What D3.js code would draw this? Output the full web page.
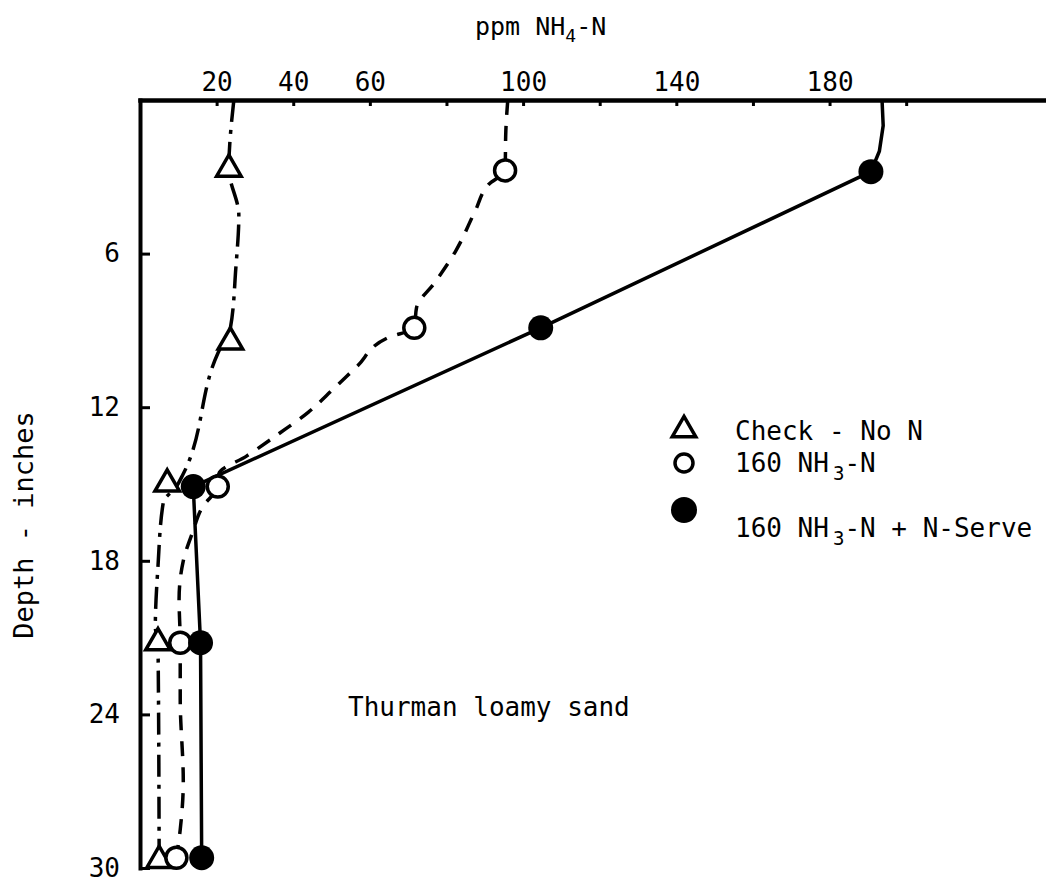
<!DOCTYPE html>
<head>
    <meta charset="utf-8">
    <script src="https://d3js.org/d3.v7.min.js"></script>
    <style>
        body {
            margin: 0;
            background: #fff;
        }

        text {
            font-family: 'DejaVu Sans Mono', monospace;
            fill: #000;
        }
    </style>
</head>

<body>
    <div id="my_dataviz"></div>
</body>
<script>

    // depth (inches) and ppm NH4-N, one pair of arrays per treatment
    var checkDepth = [2.7, 9.45, 15.0, 21.2, 29.7];
    var checkPpm = [23.2, 23.6, 7.1, 4.7, 5.0];

    var nh3Depth = [2.75, 8.9, 15.1, 21.2, 29.6];
    var nh3Ppm = [95.3, 71.6, 20.3, 10.5, 9.5];

    var nserveDepth = [2.8, 8.9, 15.1, 21.2, 29.6];
    var nservePpm = [190.8, 104.6, 13.9, 15.8, 16.1];

    // hand drawn connecting curves, [depth, ppm]
    var checkTrace = [[0, 24.5], [2.7, 23.2], [4.5, 25.8], [6.6, 25], [8.9, 23.6], [9.9, 20.3],
        [14.6, 11.3], [15.1, 9.5], [15.7, 6.1], [18.2, 4.7], [20.6, 4.0], [21.2, 4.7], [29.7, 5.0]];
    var nh3Trace = [[0, 96], [1.2, 95.5], [2.75, 95.3], [3.3, 91.0], [4.3, 87.6], [5.9, 82.4],
        [7.1, 77.1], [8.1, 72.2], [8.9, 71.6], [9.3, 64.5], [10.4, 56.7], [11.3, 50.4], [12.2, 43.9],
        [13.0, 36.6], [13.9, 27.9], [14.6, 20.6], [15.1, 20.3], [15.9, 16.3], [16.9, 13.7],
        [18, 11.3], [19.5, 10.2], [21.2, 10.5], [23.4, 10.5], [26.6, 11.3], [28.5, 10.5], [29.6, 9.5]];
    var nserveTrace = [[0, 193.7], [1.0, 194], [2.0, 193], [2.8, 190.8], [8.9, 104.6], [15.1, 13.9],
        [21.2, 15.8], [29.6, 16.1]];

    var xTicks = [20, 40, 60, 80, 100, 120, 140, 160, 180, 200];
    var xLabels = [20, 40, 60, 100, 140, 180];
    var yTicks = [6, 12, 18, 24, 30];

    var legendLabels = ["Check - No N", "160 NH{3}-N", "160 NH{3}-N + N-Serve"];

    var width = 1046,
        height = 882;

    var svg = d3.select("#my_dataviz")
        .append("svg")
        .attr("width", width)
        .attr("height", height);

    var x = d3.scaleLinear()
        .domain([0, 236.5])
        .range([140, 1046]);

    var y = d3.scaleLinear()
        .domain([0, 30])
        .range([100, 868]);

    // writes "NH{3}" style labels with a dropped subscript
    function subText(sel, label, size, subSize, drop, gap) {
        var parts = label.split(/\{(.*?)\}/);
        parts.forEach(function (p, i) {
            if (p === "") return;
            var t = sel.append("tspan").text(p);
            if (i % 2 == 1) {
                t.attr("font-size", subSize).attr("dy", drop).attr("dx", gap);
            } else if (i > 0) {
                t.attr("font-size", size).attr("dy", -drop);
            }
        });
    }

    // X axis on top, ticks point down into the plot
    var xAxis = svg.append("g")
        .attr("transform", "translate(0,100)")
        .call(d3.axisTop(x)
            .tickValues(xTicks)
            .tickSizeInner(-6)
            .tickSizeOuter(0)
            .tickPadding(9)
            .tickFormat(function (d) { return xLabels.indexOf(d) >= 0 ? d : ""; }));
    xAxis.attr("font-family", null).attr("font-size", null);
    xAxis.select(".domain").attr("stroke-width", 4.5).attr("stroke-linecap", "square");
    xAxis.selectAll(".tick line").attr("stroke-width", 3);
    xAxis.selectAll(".tick text").attr("font-size", 26);

    // Y axis, depth increasing downward
    var yAxis = svg.append("g")
        .attr("transform", "translate(140,0)")
        .call(d3.axisLeft(y)
            .tickValues(yTicks)
            .tickSizeInner(-10)
            .tickSizeOuter(0)
            .tickPadding(20));
    yAxis.attr("font-family", null).attr("font-size", null);
    yAxis.select(".domain").attr("stroke-width", 4).attr("stroke-linecap", "square");
    yAxis.selectAll(".tick line").attr("stroke-width", 3);
    yAxis.selectAll(".tick text").attr("font-size", 26);

    // axis titles
    var xTitle = svg.append("text")
        .attr("x", 475)
        .attr("y", 35)
        .attr("font-size", 25);
    subText(xTitle, "ppm NH{4}-N", 25, 18, 7, 0);

    svg.append("text")
        .attr("transform", "translate(33,525) rotate(-90)")
        .attr("text-anchor", "middle")
        .attr("font-size", 27)
        .text("Depth - inches");

    svg.append("text")
        .attr("x", 348)
        .attr("y", 716)
        .attr("font-size", 26)
        .text("Thurman loamy sand");

    // curves
    var series = [
        { depth: checkDepth, ppm: checkPpm, trace: checkTrace, dash: "22,8,4,8", curve: d3.curveMonotoneY, mark: "tri" },
        { depth: nh3Depth, ppm: nh3Ppm, trace: nh3Trace, dash: "15,11", curve: d3.curveMonotoneY, mark: "open" },
        { depth: nserveDepth, ppm: nservePpm, trace: nserveTrace, dash: null, curve: d3.curveLinear, mark: "filled" }
    ];

    series.forEach(function (s) {
        var line = d3.line()
            .x(function (d) { return x(d[1]); })
            .y(function (d) { return y(d[0]); })
            .curve(s.curve);
        svg.append("path")
            .datum(s.trace)
            .attr("d", line)
            .attr("fill", "none")
            .attr("stroke", "#000")
            .attr("stroke-width", 3.5)
            .attr("stroke-dasharray", s.dash);
    });

    function drawMark(g, kind, cx, cy, small) {
        if (kind == "tri") {
            g.append("path")
                .attr("d", d3.symbol().type(d3.symbolTriangle).size(small ? 240 : 260)())
                .attr("transform", "translate(" + cx + "," + cy + ")")
                .attr("fill", "#fff")
                .attr("stroke", "#000")
                .attr("stroke-width", 3.5)
                .attr("stroke-linejoin", "miter");
        } else if (kind == "open") {
            g.append("circle")
                .attr("cx", cx).attr("cy", cy)
                .attr("r", small ? 9 : 10.5)
                .attr("fill", "#fff")
                .attr("stroke", "#000")
                .attr("stroke-width", 3.5);
        } else {
            g.append("circle")
                .attr("cx", cx).attr("cy", cy)
                .attr("r", small ? 13 : 12.5)
                .attr("fill", "#000");
        }
    }

    // markers, filled circles last so they sit on top
    var marks = svg.append("g");
    series.forEach(function (s) {
        s.ppm.forEach(function (v, i) {
            drawMark(marks, s.mark, x(v), y(s.depth[i]), false);
        });
    });

    // legend: symbol rows and text rows are not evenly spaced in the original
    var legendMarkY = [430, 463, 510],
        legendTextY = [440, 472, 537];
    var legend = svg.append("g");
    series.forEach(function (s, i) {
        drawMark(legend, s.mark, 684, legendMarkY[i], true);
        var t = legend.append("text")
            .attr("x", 735)
            .attr("y", legendTextY[i])
            .attr("font-size", 26);
        subText(t, legendLabels[i], 26, 19, 8, 4);
    });

</script>
